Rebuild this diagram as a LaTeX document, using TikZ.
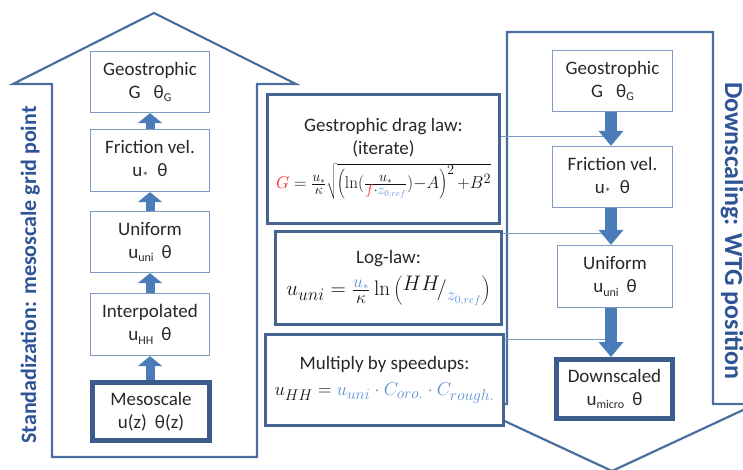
\documentclass[tikz,border=0pt]{standalone}
\usepackage[no-math]{fontspec}
\setmainfont{Carlito}
\usepackage{graphicx}
\usetikzlibrary{arrows.meta}
\definecolor{outl}{RGB}{74,110,160}
\definecolor{sidetxt}{RGB}{46,84,150}
\definecolor{thinb}{RGB}{125,155,195}
\definecolor{thickb}{RGB}{60,92,140}
\definecolor{midb}{RGB}{70,100,145}
\definecolor{arr}{RGB}{74,124,186}
\definecolor{fblue}{RGB}{90,145,215}
\definecolor{fred}{RGB}{250,40,40}
\definecolor{txt}{RGB}{40,40,40}
\definecolor{ftxt}{RGB}{20,20,20}
\newcommand{\mysub}[1]{\raisebox{-3.5pt}{\fontsize{12}{12}\selectfont #1}}
\begin{document}
\begin{tikzpicture}[x=1pt,y=-1pt,
  bigarrow/.style={draw=outl,line width=2.2pt,line join=miter},
  thinbox/.style={draw=thinb,line width=1.3pt,fill=white,inner sep=0pt,align=center,text=txt,font=\fontsize{19}{23}\selectfont},
  thickbox/.style={thinbox,draw=thickb,line width=5pt},
  midbox/.style={thinbox,draw=midb,line width=3pt},
  uparr/.style={draw=arr,line width=9pt,-{Triangle[width=24pt,length=10pt]}},
  downarr/.style={draw=arr,line width=12pt,-{Triangle[width=24pt,length=15pt]}},
  conn/.style={draw=thinb,line width=0.9pt},
  side/.style={text=sidetxt,anchor=base}
]
\useasboundingbox (0,0) rectangle (743,470);

% big outline arrows
\draw[bigarrow] (52,457) -- (52,84) -- (13,84) -- (154,13) -- (296,84) -- (257,84) -- (257,457) -- cycle;
\draw[bigarrow] (507,32) -- (713,32) -- (713,404) -- (756,404) -- (612,471) -- (468,404) -- (507,404) -- cycle;

% side labels
\node[side,rotate=90,font=\bfseries\fontsize{22}{22}\selectfont] (st) at (36,275) {Standadization: mesoscale grid point};
\node[side,rotate=-90,font=\bfseries\fontsize{26}{26}\selectfont] (ds) at (725,231) {Downscaling: WTG position};

% left column
\node[thinbox,minimum width=119pt,minimum height=61pt] (LG) at (150,82) {Geostrophic\\G\hspace{13pt}θ\mysub{G}};
\node[thinbox,minimum width=119pt,minimum height=62pt] (LF) at (150,160.5) {Friction vel.\\u\mysub{*}\hspace{9pt}θ};
\node[thinbox,minimum width=119pt,minimum height=61pt] (LU) at (150,242) {Uniform\\u\mysub{uni}\hspace{8pt}θ};
\node[thinbox,minimum width=119pt,minimum height=62pt] (LI) at (150,324.5) {Interpolated\\u\mysub{HH}\hspace{8pt}θ};
\node[thickbox,minimum width=117pt,minimum height=58pt] (LM) at (151,411.5) {Mesoscale\\u(z)\hspace{8pt}θ(z)};

% right column
\node[thinbox,minimum width=120pt,minimum height=61pt] (RG) at (612.5,81) {Geostrophic\\G\hspace{13pt}θ\mysub{G}};
\node[thinbox,minimum width=120pt,minimum height=61pt] (RF) at (612.5,177) {Friction vel.\\u\mysub{*}\hspace{9pt}θ};
\node[thinbox,minimum width=115pt,minimum height=62pt] (RU) at (615,276.5) {Uniform\\u\mysub{uni}\hspace{8pt}θ};
\node[thickbox,minimum width=116pt,minimum height=59pt] (RD) at (614.5,389) {Downscaled\\u\mysub{micro}\hspace{8pt}θ};

% middle boxes
\node[midbox,minimum width=232pt,minimum height=129pt] (drag) at (383.5,159) {Gestrophic drag law:\\(iterate)\\[5pt]
  \resizebox{215pt}{!}{\color{ftxt}$\textstyle {\color{fred}G} = \frac{u_*}{\kappa}\sqrt{\left(\ln(\frac{u_*}{{\color{fred}f}\cdot{\color{fblue}z_{0,ref}}}){-}A\right)^{2}{+}B^2}$}};
\node[midbox,minimum width=226pt,minimum height=93pt] (loglaw) at (388.5,278) {Log-law:\\[8pt]
  \resizebox{204pt}{!}{\color{ftxt}$\textstyle u_{uni} = \frac{{\color{fblue}u_*}}{\kappa}\ln\bigg(\raisebox{4pt}{$HH$}\!/\raisebox{-4pt}{$\scriptstyle\color{fblue}z_{0,ref}$}\bigg)$}};
\node[midbox,minimum width=238pt,minimum height=91pt] (mult) at (384.5,380) {Multiply by speedups:\\[3pt]
  \resizebox{220pt}{!}{\color{ftxt}$u_{HH} = {\color{fblue}u_{uni}\cdot C_{oro.}\cdot C_{rough.}}$}};

% connectors
\coordinate (c1) at (611,136);
\coordinate (c2) at (611,233);
\coordinate (c3) at (611,339);
\draw[conn] (drag.east |- c1) -- (c1);
\draw[conn] (loglaw.east |- c2) -- (c2);
\draw[conn] (mult.east |- c3) -- (c3);

% small up arrows
\draw[uparr] (LF.north) -- (LG.south);
\draw[uparr] (LU.north) -- (LF.south);
\draw[uparr] (LI.north) -- (LU.south);
\draw[uparr] (LI.south |- LM.north) -- (LI.south);

% down arrows
\draw[downarr] (c1 |- RG.south) -- (c1 |- RF.north);
\draw[downarr] (c1 |- RF.south) -- (c1 |- RU.north);
\draw[downarr] (c1 |- RU.south) -- (c1 |- RD.north);
\end{tikzpicture}
\end{document}
